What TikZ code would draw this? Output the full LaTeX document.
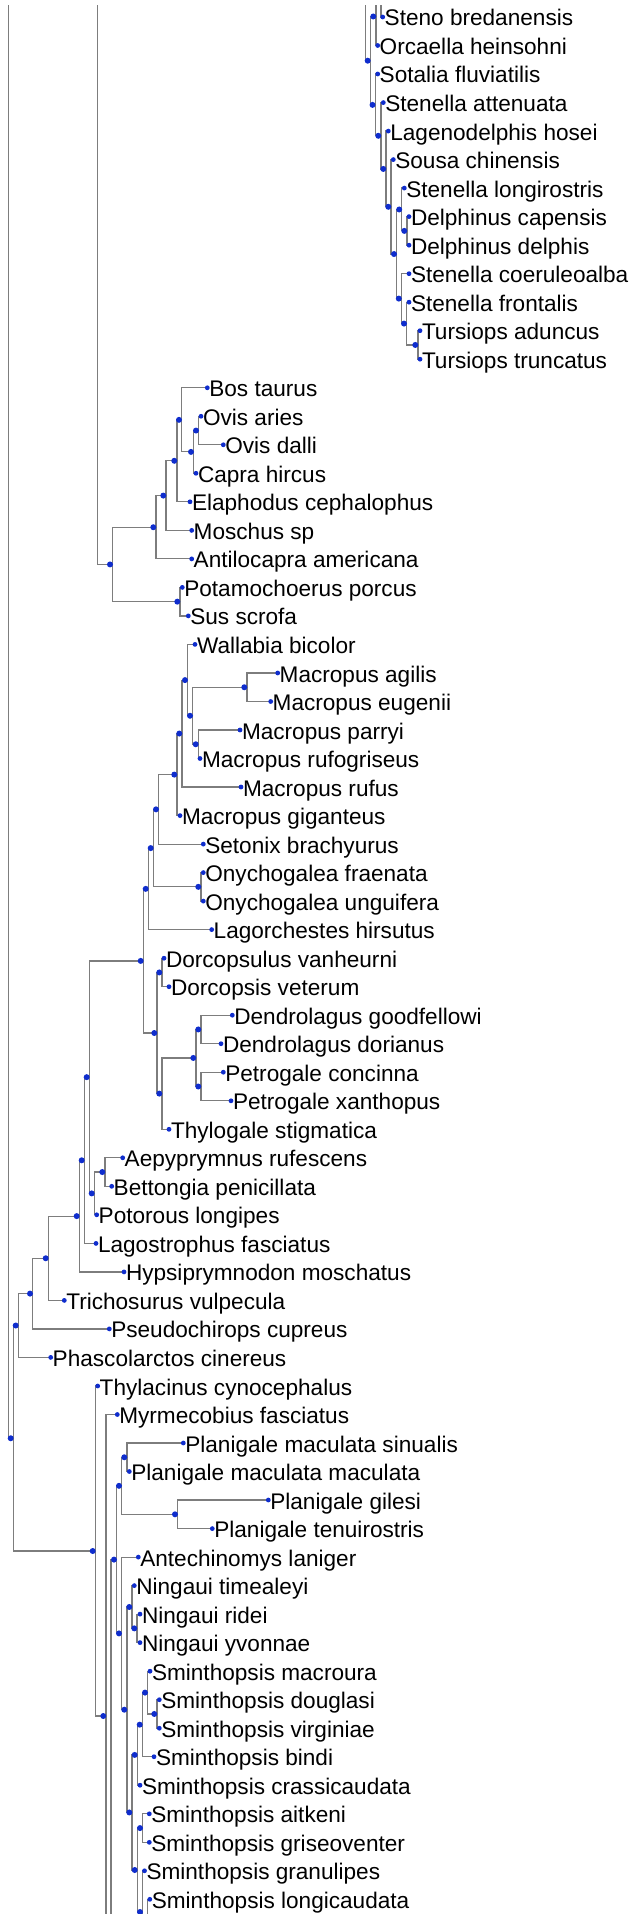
\documentclass[tikz,border=0pt]{standalone}
\usepackage{fontspec}
\setmainfont{Liberation Sans}
\usetikzlibrary{calc,backgrounds}
\definecolor{dotblue}{RGB}{15,45,205}
\definecolor{edgegray}{RGB}{125,125,125}
\tikzset{
  ldot/.style={circle,fill=dotblue,inner sep=0pt,minimum size=2.4pt,draw=none},
  idot/.style={circle,fill=dotblue,inner sep=0pt,minimum size=3.0pt,draw=none},
  lab/.style={inner sep=0pt,outer sep=0pt,anchor=base west,text=black,font=\fontsize{11.3}{13}\selectfont},
  edge/.style={draw=edgegray,line width=0.6pt}
}
\newcommand\lf[4]{\node[ldot] (#1) at (#2,#3) {}; \node[lab] (#1t) at ($(#1)+(2,9)$) {#4};}
\newcommand\nd[3]{\node[idot] (#1) at (#2,#3) {};}
\begin{document}
\begin{tikzpicture}[x=0.5pt,y=-0.5pt]
\useasboundingbox (0,0) rectangle (638,1914);
% leaves
\lf{L0}{382.7}{17.0}{Steno bredanensis}
\lf{L1}{377.7}{45.5}{Orcaella heinsohni}
\lf{L2}{377.7}{74.0}{Sotalia fluviatilis}
\lf{L3}{383.3}{102.6}{Stenella attenuata}
\lf{L4}{388.3}{131.1}{Lagenodelphis hosei}
\lf{L5}{393.3}{159.6}{Sousa chinensis}
\lf{L6}{404.3}{188.1}{Stenella longirostris}
\lf{L7}{409}{216.6}{Delphinus capensis}
\lf{L8}{409}{245.2}{Delphinus delphis}
\lf{L9}{409}{273.7}{Stenella coeruleoalba}
\lf{L10}{409}{302.2}{Stenella frontalis}
\lf{L11}{420}{330.7}{Tursiops aduncus}
\lf{L12}{420}{359.2}{Tursiops truncatus}
\lf{L13}{207.3}{387.8}{Bos taurus}
\lf{L14}{201}{416.3}{Ovis aries}
\lf{L15}{223.3}{444.8}{Ovis dalli}
\lf{L16}{196}{473.3}{Capra hircus}
\lf{L17}{190}{501.8}{Elaphodus cephalophus}
\lf{L18}{191.7}{530.4}{Moschus sp}
\lf{L19}{191.7}{558.9}{Antilocapra americana}
\lf{L20}{182.3}{587.4}{Potamochoerus porcus}
\lf{L21}{188.3}{615.9}{Sus scrofa}
\lf{L22}{195}{644.4}{Wallabia bicolor}
\lf{L23}{277.7}{673.0}{Macropus agilis}
\lf{L24}{270.7}{701.5}{Macropus eugenii}
\lf{L25}{240}{730.0}{Macropus parryi}
\lf{L26}{200}{758.5}{Macropus rufogriseus}
\lf{L27}{241}{787.0}{Macropus rufus}
\lf{L28}{180}{815.6}{Macropus giganteus}
\lf{L29}{203.3}{844.1}{Setonix brachyurus}
\lf{L30}{203.3}{872.6}{Onychogalea fraenata}
\lf{L31}{203.3}{901.1}{Onychogalea unguifera}
\lf{L32}{211.7}{929.6}{Lagorchestes hirsutus}
\lf{L33}{164}{958.2}{Dorcopsulus vanheurni}
\lf{L34}{169}{986.7}{Dorcopsis veterum}
\lf{L35}{232.3}{1015.2}{Dendrolagus goodfellowi}
\lf{L36}{221}{1043.7}{Dendrolagus dorianus}
\lf{L37}{223.3}{1072.2}{Petrogale concinna}
\lf{L38}{231}{1100.8}{Petrogale xanthopus}
\lf{L39}{169}{1129.3}{Thylogale stigmatica}
\lf{L40}{122.7}{1157.8}{Aepyprymnus rufescens}
\lf{L41}{111.7}{1186.3}{Bettongia penicillata}
\lf{L42}{96.7}{1214.8}{Potorous longipes}
\lf{L43}{96}{1243.4}{Lagostrophus fasciatus}
\lf{L44}{124}{1271.9}{Hypsiprymnodon moschatus}
\lf{L45}{64.3}{1300.4}{Trichosurus vulpecula}
\lf{L46}{109.3}{1328.9}{Pseudochirops cupreus}
\lf{L47}{50.7}{1357.4}{Phascolarctos cinereus}
\lf{L48}{97.7}{1386.0}{Thylacinus cynocephalus}
\lf{L49}{117.3}{1414.5}{Myrmecobius fasciatus}
\lf{L50}{183.3}{1443.0}{Planigale maculata sinualis}
\lf{L51}{129.3}{1471.5}{Planigale maculata maculata}
\lf{L52}{268.3}{1500.0}{Planigale gilesi}
\lf{L53}{212.3}{1528.6}{Planigale tenuirostris}
\lf{L54}{138.3}{1557.1}{Antechinomys laniger}
\lf{L55}{134.3}{1585.6}{Ningaui timealeyi}
\lf{L56}{140}{1614.1}{Ningaui ridei}
\lf{L57}{140}{1642.6}{Ningaui yvonnae}
\lf{L58}{150}{1671.2}{Sminthopsis macroura}
\lf{L59}{159.3}{1699.7}{Sminthopsis douglasi}
\lf{L60}{159.3}{1728.2}{Sminthopsis virginiae}
\lf{L61}{154}{1756.7}{Sminthopsis bindi}
\lf{L62}{140}{1785.2}{Sminthopsis crassicaudata}
\lf{L63}{149.3}{1813.8}{Sminthopsis aitkeni}
\lf{L64}{149.3}{1842.3}{Sminthopsis griseoventer}
\lf{L65}{144.5}{1870.8}{Sminthopsis granulipes}
\lf{L66}{149.8}{1899.3}{Sminthopsis longicaudata}
% internal nodes: dolphins
\nd{N1}{367.7}{60.7}
\nd{N2}{373.3}{16.5}
\coordinate (N3) at (378.4,-12.5);
\nd{N4}{372.5}{104.9}
\nd{N5}{378.3}{135.8}
\nd{N6}{383.3}{168.95}
\nd{N7}{388.3}{206.8}
\nd{N8}{394}{254.05}
\nd{N9}{399.2}{209.5}
\nd{N10}{404.3}{230.9}
\nd{N11}{398.8}{298.6}
\nd{N12}{404}{323.6}
\nd{N13}{415.3}{344.95}
% bovids and suids
\nd{C0}{110}{564.45}
\nd{C1}{153.3}{527.25}
\nd{C2}{163.3}{495.6}
\nd{C3}{174.3}{460.8}
\nd{C4}{179}{419.85}
\nd{C5}{191}{451.9}
\nd{C6}{196}{430.55}
\nd{S0}{177.3}{601.65}
% marsupials
\nd{M0}{10.7}{1438.25}
\nd{D0}{15.7}{1325.5}
\nd{D1}{30}{1293.6}
\nd{D2}{45.7}{1258.25}
\nd{D3}{76.7}{1216.1}
\nd{D4}{81.7}{1160.3}
\nd{D5}{86.7}{1077.15}
\nd{P0}{91.7}{1193.4}
\nd{P1}{102.3}{1172.05}
\nd{K0}{140.7}{960.9}
\nd{K1}{145.7}{888.85}
\nd{K2}{150.7}{848.1}
\nd{K3}{156}{809.35}
\nd{K4}{174.3}{774.6}
\nd{K5}{179.3}{733.55}
\nd{K6}{185}{680.1}
\nd{K7}{190}{715.75}
\nd{K8}{244.3}{687.25}
\nd{K8b}{195.7}{744.25}
\nd{K9}{198.3}{886.85}
\nd{K10}{154.3}{1033.0}
\nd{K11}{159.3}{972.45}
\nd{K12}{159.3}{1093.6}
\nd{K13}{193.3}{1057.95}
\nd{K14}{198.3}{1029.45}
\nd{K15}{198.3}{1086.5}
\nd{Das0}{92.7}{1551}
\nd{Das1}{103.3}{1716}
\coordinate (Das2) at (108.4,2017.5);
\nd{Q0}{114}{1559.6}
\nd{Q1}{119}{1485.8}
\nd{Q2}{124.3}{1457.25}
\nd{Q3}{175}{1514.3}
\nd{Q4}{119}{1633.4}
\nd{Q5}{124.3}{1709.7}
\nd{Q6}{129.3}{1606.98}
\nd{Q7}{134.3}{1628.35}
\nd{Q8}{129.3}{1812.45}
\nd{Q9}{134.7}{1754.9}
\nd{Q10}{139.7}{1724.65}
\nd{Q11}{145}{1692.6}
\nd{Q12}{154.3}{1713.95}
\nd{Q13}{134.7}{1870.0}
\nd{Q14}{140}{1828.05}
\nd{Q15}{140}{1912}
\coordinate (Q16) at (145.1,1953.2);
% free ends at the top
\coordinate (tN1) at (365.1,0);
\coordinate (tC) at (97.4,0);
\coordinate (tM) at (8.1,0);
\begin{pgfonlayer}{background}
\begin{scope}
\clip (0,6) rectangle (638,1914);
\draw[edge] (tN1) |- (N1.center);
\draw[edge] (tC) |- (C0.center);
\draw[edge] (tM) |- (M0.center);
\foreach \a/\b in {N1/N2,N1/N4,N2/N3,N2/L1,N3/L0,N4/L2,N4/N5,N5/L3,N5/N6,N6/L4,N6/N7,N7/L5,N7/N8,N8/N9,N8/N11,N9/L6,N9/N10,N10/L7,N10/L8,N11/L9,N11/N12,N12/L10,N12/N13,N13/L11,N13/L12,
C0/C1,C0/S0,C1/C2,C1/L19,C2/C3,C2/L18,C3/C4,C3/L17,C4/L13,C4/C5,C5/C6,C5/L16,C6/L14,C6/L15,S0/L20,S0/L21,
M0/D0,M0/Das0,D0/D1,D0/L47,D1/D2,D1/L46,D2/D3,D2/L45,D3/D4,D3/L44,D4/D5,D4/L43,D5/K0,D5/P0,P0/P1,P0/L42,P1/L40,P1/L41,
K0/K1,K0/K10,K1/K2,K1/L32,K2/K3,K2/K9,K9/L30,K9/L31,K3/K4,K3/L29,K4/K5,K4/L28,K5/K6,K5/L27,K6/L22,K6/K7,K7/K8,K7/K8b,K8/L23,K8/L24,K8b/L25,K8b/L26,
K10/K11,K10/K12,K11/L33,K11/L34,K12/K13,K12/L39,K13/K14,K13/K15,K14/L35,K14/L36,K15/L37,K15/L38,
Das0/L48,Das0/Das1,Das1/L49,Das1/Das2,Das2/Q0,Q0/Q1,Q0/Q4,Q1/Q2,Q1/Q3,Q2/L50,Q2/L51,Q3/L52,Q3/L53,Q4/L54,Q4/Q5,Q5/Q6,Q5/Q8,Q6/L55,Q6/Q7,Q7/L56,Q7/L57,
Q8/Q9,Q8/Q13,Q9/Q10,Q9/L62,Q10/Q11,Q10/L61,Q11/L58,Q11/Q12,Q12/L59,Q12/L60,Q13/Q14,Q13/Q15,Q14/L63,Q14/L64,Q15/L65,Q15/Q16,Q16/L66}
  \draw[edge] ([xshift=1.3pt]\a.center) |- (\b.center);
\end{scope}
\end{pgfonlayer}
\end{tikzpicture}
\end{document}
